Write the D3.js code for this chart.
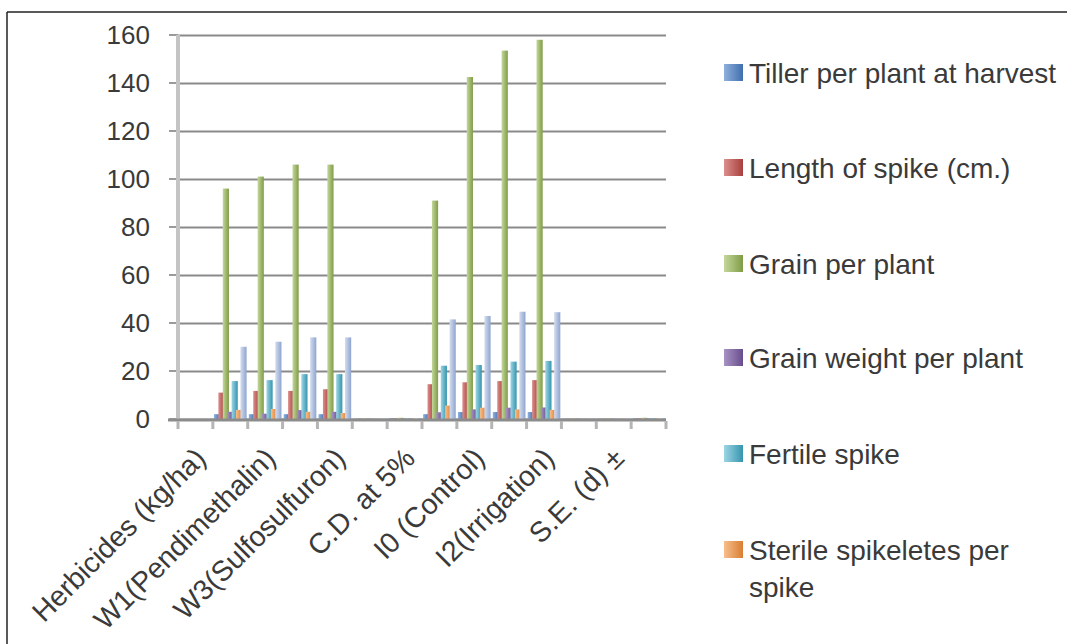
<!DOCTYPE html>
<html>
  <head>
    <meta charset="UTF-8" />
    <script src="https://cdnjs.cloudflare.com/ajax/libs/d3/7.8.5/d3.min.js"></script>
    <style>
      body { margin: 0; background: #fff; }
      svg text { font-family: "Liberation Sans", Arial, sans-serif; fill: #3a3a3a; }
      .grid line { stroke: #8a8a8a; stroke-width: 2.2; }
      .grid path { display: none; }
      .frame { stroke: #222; stroke-width: 1.5; }
    </style>
  </head>
  <body>
    <svg id="chart" width="1067" height="644"></svg>
    <script>
      // categories along x (Excel only shows every second label)
      var categories = [
        "Herbicides  (kg/ha)", "W0(Weedy check)", "W1(Pendimethalin)", "W2(Metsulfuron)",
        "W3(Sulfosulfuron)", "S.E. (d) ±", "C.D. at 5%", "Irrigation levels",
        "I0 (Control)", "I1(Irrigation)", "I2(Irrigation)", "I3(Irrigation)",
        "S.E. (d) ±", "C.D. at 5%"
      ];
      var yTicks = [0, 20, 40, 60, 80, 100, 120, 140, 160];

      var seriesNames = [
        "Tiller per plant at harvest", "Length of spike (cm.)", "Grain per plant",
        "Grain weight per plant", "Fertile spike", "Sterile spikeletes per spike",
        "Test weight"
      ];
      var tiller      = [0, 2.0, 2.0, 2.0, 2.0, 0.1, 0.3, 2.0, 2.9, 2.9, 2.9, 0.1, 0.1, 0.3];
      var spikeLength = [0, 11.0, 11.7, 11.7, 12.4, 0.1, 0.3, 14.5, 15.3, 15.8, 16.2, 0.1, 0.1, 0.3];
      var grain       = [0, 96, 101, 106, 106, 0.2, 0.5, 91, 142.5, 153.5, 158, 0.2, 0.2, 0.5];
      var grainWeight = [0, 3.0, 2.2, 3.7, 3.0, 0.1, 0.2, 2.8, 4.0, 4.7, 4.8, 0.1, 0.1, 0.2];
      var fertile     = [0, 15.8, 16.2, 18.7, 18.7, 0.1, 0.3, 22.2, 22.5, 23.9, 24.2, 0.1, 0.1, 0.3];
      var sterile     = [0, 3.8, 4.2, 3.0, 2.5, 0.1, 0.2, 5.6, 4.7, 4.0, 3.8, 0.1, 0.1, 0.2];
      var testWeight  = [0, 30.1, 32.2, 34.0, 34.0, 0.1, 0.4, 41.5, 42.9, 44.7, 44.5, 0.1, 0.1, 0.4];

      var seriesValues = [tiller, spikeLength, grain, grainWeight, fertile, sterile, testWeight];
      var seriesColors = [
        ["#8fb0dc", "#3f6fae"], ["#dc8f8c", "#a8403d"], ["#c4d79c", "#7f9c45"],
        ["#a893c4", "#684d8c"], ["#9dd5e4", "#3595ae"], ["#f8bf8c", "#d97e33"],
        ["#d3ddef", "#8ea5cf"]
      ];

      var svg = d3.select("#chart");
      var plotLeft = 178, plotRight = 666, plotTop = 35, plotBottom = 419;

      var x0 = d3.scaleBand().domain(categories.map((d, i) => i)).range([plotLeft, plotRight]).padding(0);
      var x1 = d3.scaleBand().domain(seriesNames).range([0, x0.bandwidth()]).paddingOuter(0.45).paddingInner(0);
      var y = d3.scaleLinear().domain([0, 160]).range([plotBottom, plotTop]);

      // gradients like Excel 2007 bars
      var defs = svg.append("defs");
      seriesColors.forEach(function (c, i) {
        var g = defs.append("linearGradient").attr("id", "grad" + i)
          .attr("x1", "0%").attr("x2", "100%").attr("y1", "0%").attr("y2", "0%");
        g.append("stop").attr("offset", "0%").attr("stop-color", c[0]);
        g.append("stop").attr("offset", "100%").attr("stop-color", c[1]);
      });

      // picture frame
      svg.append("line").attr("class", "frame").attr("x1", 7).attr("x2", 7).attr("y1", 12).attr("y2", 644);
      svg.append("line").attr("class", "frame").attr("x1", 7).attr("x2", 1067).attr("y1", 12).attr("y2", 12);

      // gridlines + y labels
      svg.append("g").attr("class", "grid")
        .attr("transform", "translate(" + plotLeft + ",0)")
        .call(d3.axisLeft(y).tickValues(yTicks).tickSize(-(plotRight - plotLeft)).tickFormat(""));

      svg.append("g").selectAll("line").data(yTicks).enter().append("line")
        .attr("x1", plotLeft - 9).attr("x2", plotLeft).attr("y1", d => y(d)).attr("y2", d => y(d))
        .attr("stroke", "#9a9a9a").attr("stroke-width", 2);

      svg.append("g").selectAll("text").data(yTicks).enter().append("text")
        .attr("x", plotLeft - 28).attr("y", d => y(d)).attr("dy", "0.36em")
        .attr("text-anchor", "end").style("font-size", "26px").text(d => d);

      svg.append("line").attr("x1", plotLeft).attr("x2", plotLeft).attr("y1", plotTop).attr("y2", plotBottom)
        .attr("stroke", "#c4c4c4").attr("stroke-width", 4);

      // bars, a little wider than their slot so neighbours overlap as in the original
      var step = x1.step();
      var groups = svg.append("g").selectAll("g").data(categories.map((d, i) => i)).enter().append("g")
        .attr("transform", d => "translate(" + x0(d) + ",0)");

      groups.selectAll("rect")
        .data(ci => seriesNames.map((s, si) => ({ s: s, si: si, v: seriesValues[si][ci] })))
        .enter().append("rect")
        .attr("x", d => x1(d.s) - step * 0.2)
        .attr("width", step * 1.4)
        .attr("y", d => y(d.v))
        .attr("height", d => plotBottom - y(d.v))
        .attr("fill", d => "url(#grad" + d.si + ")");

      // x axis
      svg.append("line").attr("x1", plotLeft - 10).attr("x2", plotRight).attr("y1", plotBottom + 1).attr("y2", plotBottom + 1)
        .attr("stroke", "#8c8c8c").attr("stroke-width", 3);
      var bounds = categories.map((d, i) => x0(i)).concat([plotRight]);
      svg.append("g").selectAll("line").data(bounds).enter().append("line")
        .attr("x1", d => d).attr("x2", d => d).attr("y1", plotBottom + 2).attr("y2", plotBottom + 10)
        .attr("stroke", "#b5b5b5").attr("stroke-width", 3);

      svg.append("g").selectAll("text")
        .data(categories.map((d, i) => ({ d: d, i: i })).filter(o => o.i % 2 === 0))
        .enter().append("text")
        .attr("text-anchor", "end")
        .attr("transform", o => "translate(" + (x0(o.i) + x0.bandwidth() / 2 + 12) + "," + 460 + ") rotate(-45)")
        .style("font-size", "28.5px")
        .text(o => o.d);

      // legend (the seventh entry falls below the picture, so only six are drawn)
      var legend = svg.append("g").attr("transform", "translate(724,0)");
      var legendY = [73, 168, 264, 358, 454, 550];
      seriesNames.slice(0, 6).forEach(function (name, i) {
        var item = legend.append("g").attr("transform", "translate(0," + legendY[i] + ")");
        item.append("rect").attr("x", 0).attr("y", -9).attr("width", 19).attr("height", 17)
          .attr("fill", "url(#grad" + i + ")");
        var t = item.append("text").attr("x", 25).attr("y", 0).attr("dy", "0.36em")
          .style("font-size", "28px");
        var words = name.split(" "), line = [], tspan = t.append("tspan").attr("x", 25);
        words.forEach(function (w) {
          line.push(w);
          tspan.text(line.join(" "));
          if (tspan.node().getComputedTextLength() > 312 && line.length > 1) {
            line.pop();
            tspan.text(line.join(" "));
            line = [w];
            tspan = t.append("tspan").attr("x", 25).attr("dy", 37).text(w);
          }
        });
      });
    </script>
  </body>
</html>
